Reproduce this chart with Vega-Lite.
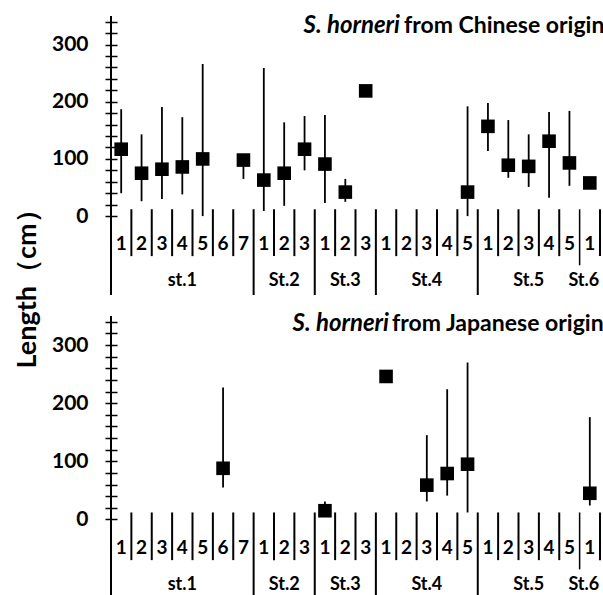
{
  "$schema": "https://vega.github.io/schema/vega-lite/v6.json",
  "background": "white",
  "padding": {"left": 13, "top": 10, "right": 0, "bottom": 0},
  "spacing": 21,
  "bounds": "flush",
  "resolve": {"scale": {"x": "independent", "y": "independent"}},
  "config": {"view": {"stroke": null}, "font": "Lato"},
  "datasets": {
    "slots": [
      {"id": "s1_1", "sub": "1"}, {"id": "s1_2", "sub": "2"}, {"id": "s1_3", "sub": "3"}, {"id": "s1_4", "sub": "4"},
      {"id": "s1_5", "sub": "5"}, {"id": "s1_6", "sub": "6"}, {"id": "s1_7", "sub": "7"},
      {"id": "s2_1", "sub": "1"}, {"id": "s2_2", "sub": "2"}, {"id": "s2_3", "sub": "3"},
      {"id": "s3_1", "sub": "1"}, {"id": "s3_2", "sub": "2"}, {"id": "s3_3", "sub": "3"},
      {"id": "s4_1", "sub": "1"}, {"id": "s4_2", "sub": "2"}, {"id": "s4_3", "sub": "3"}, {"id": "s4_4", "sub": "4"}, {"id": "s4_5", "sub": "5"},
      {"id": "s5_1", "sub": "1"}, {"id": "s5_2", "sub": "2"}, {"id": "s5_3", "sub": "3"}, {"id": "s5_4", "sub": "4"}, {"id": "s5_5", "sub": "5"},
      {"id": "s6_1", "sub": "1"}
    ],
    "stations": [
      {"label": "st.1", "mid": "s1_4"}, {"label": "St.2", "mid": "s2_2"}, {"label": "St.3", "mid": "s3_2"},
      {"label": "St.4", "mid": "s4_3"}, {"label": "St.5", "mid": "s5_3"}
    ],
    "station6": [{"label": "St.6", "mid": "s6_1"}],
    "sepSub": [
      {"at": "s1_2"}, {"at": "s1_3"}, {"at": "s1_4"}, {"at": "s1_5"}, {"at": "s1_6"}, {"at": "s1_7"},
      {"at": "s2_2"}, {"at": "s2_3"}, {"at": "s3_2"}, {"at": "s3_3"},
      {"at": "s4_2"}, {"at": "s4_3"}, {"at": "s4_4"}, {"at": "s4_5"},
      {"at": "s5_2"}, {"at": "s5_3"}, {"at": "s5_4"}, {"at": "s5_5"}
    ],
    "sepStation": [{"at": "s2_1"}, {"at": "s3_1"}, {"at": "s4_1"}, {"at": "s5_1"}],
    "firstSlot": [{"at": "s1_1"}],
    "lastSlot": [{"at": "s6_1"}],
    "titleCN": [{"at": "s6_1", "species": "S. horneri", "rest": "from Chinese origin"}],
    "titleJP": [{"at": "s6_1", "species": "S. horneri", "rest": "from Japanese origin"}],
    "chinese": [
      {"id": "s1_1", "mean": 117, "lo": 40, "hi": 187},
      {"id": "s1_2", "mean": 75, "lo": 26, "hi": 143},
      {"id": "s1_3", "mean": 82, "lo": 30, "hi": 191},
      {"id": "s1_4", "mean": 86, "lo": 38, "hi": 173},
      {"id": "s1_5", "mean": 100, "lo": 0, "hi": 266},
      {"id": "s1_7", "mean": 98, "lo": 65, "hi": 98},
      {"id": "s2_1", "mean": 63, "lo": 9, "hi": 259},
      {"id": "s2_2", "mean": 75, "lo": 18, "hi": 164},
      {"id": "s2_3", "mean": 117, "lo": 80, "hi": 175},
      {"id": "s3_1", "mean": 91, "lo": 23, "hi": 177},
      {"id": "s3_2", "mean": 42, "lo": 25, "hi": 65},
      {"id": "s3_3", "mean": 219, "lo": null, "hi": null},
      {"id": "s4_5", "mean": 42, "lo": 0, "hi": 192},
      {"id": "s5_1", "mean": 157, "lo": 114, "hi": 198},
      {"id": "s5_2", "mean": 89, "lo": 67, "hi": 168},
      {"id": "s5_3", "mean": 87, "lo": 51, "hi": 143},
      {"id": "s5_4", "mean": 131, "lo": 32, "hi": 182},
      {"id": "s5_5", "mean": 93, "lo": 53, "hi": 184},
      {"id": "s6_1", "mean": 58, "lo": null, "hi": null}
    ],
    "japanese": [
      {"id": "s1_6", "mean": 88, "lo": 55, "hi": 227},
      {"id": "s3_1", "mean": 15, "lo": 15, "hi": 31},
      {"id": "s4_1", "mean": 246, "lo": null, "hi": null},
      {"id": "s4_3", "mean": 59, "lo": 31, "hi": 145},
      {"id": "s4_4", "mean": 79, "lo": 41, "hi": 224},
      {"id": "s4_5", "mean": 95, "lo": 12, "hi": 270},
      {"id": "s6_1", "mean": 45, "lo": 24, "hi": 176}
    ]
  },
  "vconcat": [
    {
      "width": 489,
      "height": 279,
      "layer": [
        {
          "data": {"name": "firstSlot"},
          "mark": {"type": "rule", "color": "black", "strokeWidth": 2},
          "encoding": {
            "x": {"field": "at", "type": "nominal", "bandPosition": 0,
              "scale": {"type": "band", "paddingInner": 0, "paddingOuter": 0,
                "domain": ["s1_1","s1_2","s1_3","s1_4","s1_5","s1_6","s1_7","s2_1","s2_2","s2_3","s3_1","s3_2","s3_3","s4_1","s4_2","s4_3","s4_4","s4_5","s5_1","s5_2","s5_3","s5_4","s5_5","s6_1"]},
              "axis": null},
            "y": {"datum": 350, "type": "quantitative",
              "scale": {"domain": [-138, 350], "nice": false, "zero": false},
              "axis": {
                "values": [0,20,40,60,80,100,120,140,160,180,200,220,240,260,280,300,320,340],
                "tickCount": 100,
                "labelExpr": "datum.value % 100 === 0 ? datum.label : ''",
                "labelOverlap": false, "labelBound": false,
                "domain": false, "grid": false, "offset": -6, "tickSize": 12, "tickWidth": 1.5, "tickColor": "black",
                "labelPadding": 17, "labelFont": "Lato", "labelFontWeight": "bold", "labelFontSize": 21, "labelColor": "black",
                "title": "Length（cm）", "titleFont": "Lato", "titleFontWeight": "bold", "titleFontSize": 27, "titleColor": "black",
                "titleAngle": 270, "titleAlign": "center", "titleBaseline": "middle", "titleX": -90, "titleY": 266
              }},
            "y2": {"datum": -138}
          }
        },
        {"mark": {"type": "rule", "color": "black", "strokeWidth": 2}, "encoding": {"y": {"datum": 0}}},
        {
          "data": {"name": "sepSub"},
          "mark": {"type": "rule", "color": "black", "strokeWidth": 2},
          "encoding": {"x": {"field": "at", "type": "nominal", "bandPosition": 0}, "y": {"datum": 12}, "y2": {"datum": -70}}
        },
        {
          "data": {"name": "lastSlot"},
          "mark": {"type": "rule", "color": "black", "strokeWidth": 2},
          "encoding": {"x": {"field": "at", "type": "nominal", "bandPosition": 1}, "y": {"datum": 12}, "y2": {"datum": -70}}
        },
        {
          "data": {"name": "sepStation"},
          "mark": {"type": "rule", "color": "black", "strokeWidth": 2},
          "encoding": {"x": {"field": "at", "type": "nominal", "bandPosition": 0}, "y": {"datum": 12}, "y2": {"datum": -138}}
        },
        {
          "data": {"name": "lastSlot"},
          "mark": {"type": "rule", "color": "black", "strokeWidth": 1.5},
          "encoding": {"x": {"field": "at", "type": "nominal", "bandPosition": 0}, "y": {"datum": 12}, "y2": {"datum": -86}}
        },
        {
          "data": {"name": "slots"},
          "mark": {"type": "text", "font": "Lato", "fontWeight": "bold", "fontSize": 19, "color": "black", "baseline": "middle"},
          "encoding": {"x": {"field": "id", "type": "nominal"}, "y": {"datum": -48}, "text": {"field": "sub"}}
        },
        {
          "data": {"name": "stations"},
          "mark": {"type": "text", "font": "Lato", "fontWeight": "bold", "fontSize": 18, "color": "black", "baseline": "middle"},
          "encoding": {"x": {"field": "mid", "type": "nominal"}, "y": {"datum": -114}, "text": {"field": "label"}}
        },
        {
          "data": {"name": "station6"},
          "mark": {"type": "text", "font": "Lato", "fontWeight": "bold", "fontSize": 18, "color": "black", "baseline": "middle", "dx": -6},
          "encoding": {"x": {"field": "mid", "type": "nominal"}, "y": {"datum": -114}, "text": {"field": "label"}}
        },
        {
          "data": {"name": "chinese"},
          "mark": {"type": "rule", "color": "black", "strokeWidth": 1.8},
          "encoding": {"x": {"field": "id", "type": "nominal"}, "y": {"field": "lo", "type": "quantitative"}, "y2": {"field": "hi"}}
        },
        {
          "data": {"name": "chinese"},
          "mark": {"type": "point", "shape": "square", "filled": true, "color": "black", "opacity": 1, "size": 185},
          "encoding": {"x": {"field": "id", "type": "nominal"}, "y": {"field": "mean", "type": "quantitative"}}
        },
        {
          "data": {"name": "titleCN"},
          "mark": {"type": "text", "font": "Lato", "fontWeight": "bold", "fontStyle": "italic", "fontSize": 24, "color": "black", "align": "right", "baseline": "middle", "dx": -200},
          "encoding": {"x": {"field": "at", "type": "nominal", "bandPosition": 1}, "y": {"datum": 332}, "text": {"field": "species"}}
        },
        {
          "data": {"name": "titleCN"},
          "mark": {"type": "text", "font": "Lato", "fontWeight": "bold", "fontSize": 23, "color": "black", "align": "left", "baseline": "middle", "dx": -196},
          "encoding": {"x": {"field": "at", "type": "nominal", "bandPosition": 1}, "y": {"datum": 332}, "text": {"field": "rest"}}
        }
      ]
    },
    {
      "width": 489,
      "height": 279,
      "layer": [
        {
          "data": {"name": "firstSlot"},
          "mark": {"type": "rule", "color": "black", "strokeWidth": 2},
          "encoding": {
            "x": {"field": "at", "type": "nominal", "bandPosition": 0,
              "scale": {"type": "band", "paddingInner": 0, "paddingOuter": 0,
                "domain": ["s1_1","s1_2","s1_3","s1_4","s1_5","s1_6","s1_7","s2_1","s2_2","s2_3","s3_1","s3_2","s3_3","s4_1","s4_2","s4_3","s4_4","s4_5","s5_1","s5_2","s5_3","s5_4","s5_5","s6_1"]},
              "axis": null},
            "y": {"datum": 350, "type": "quantitative",
              "scale": {"domain": [-130, 350], "nice": false, "zero": false},
              "axis": {
                "values": [0,20,40,60,80,100,120,140,160,180,200,220,240,260,280,300,320,340],
                "tickCount": 100,
                "labelExpr": "datum.value % 100 === 0 ? datum.label : ''",
                "labelOverlap": false, "labelBound": false,
                "domain": false, "grid": false, "offset": -6, "tickSize": 12, "tickWidth": 1.5, "tickColor": "black",
                "labelPadding": 17, "labelFont": "Lato", "labelFontWeight": "bold", "labelFontSize": 21, "labelColor": "black",
                "title": null
              }},
            "y2": {"datum": -130}
          }
        },
        {"mark": {"type": "rule", "color": "black", "strokeWidth": 2}, "encoding": {"y": {"datum": 0}}},
        {
          "data": {"name": "sepSub"},
          "mark": {"type": "rule", "color": "black", "strokeWidth": 2},
          "encoding": {"x": {"field": "at", "type": "nominal", "bandPosition": 0}, "y": {"datum": 12}, "y2": {"datum": -70}}
        },
        {
          "data": {"name": "lastSlot"},
          "mark": {"type": "rule", "color": "black", "strokeWidth": 2},
          "encoding": {"x": {"field": "at", "type": "nominal", "bandPosition": 1}, "y": {"datum": 12}, "y2": {"datum": -70}}
        },
        {
          "data": {"name": "sepStation"},
          "mark": {"type": "rule", "color": "black", "strokeWidth": 2},
          "encoding": {"x": {"field": "at", "type": "nominal", "bandPosition": 0}, "y": {"datum": 12}, "y2": {"datum": -130}}
        },
        {
          "data": {"name": "lastSlot"},
          "mark": {"type": "rule", "color": "black", "strokeWidth": 1.5},
          "encoding": {"x": {"field": "at", "type": "nominal", "bandPosition": 0}, "y": {"datum": 12}, "y2": {"datum": -86}}
        },
        {
          "data": {"name": "slots"},
          "mark": {"type": "text", "font": "Lato", "fontWeight": "bold", "fontSize": 19, "color": "black", "baseline": "middle"},
          "encoding": {"x": {"field": "id", "type": "nominal"}, "y": {"datum": -49}, "text": {"field": "sub"}}
        },
        {
          "data": {"name": "stations"},
          "mark": {"type": "text", "font": "Lato", "fontWeight": "bold", "fontSize": 18, "color": "black", "baseline": "middle"},
          "encoding": {"x": {"field": "mid", "type": "nominal"}, "y": {"datum": -112}, "text": {"field": "label"}}
        },
        {
          "data": {"name": "station6"},
          "mark": {"type": "text", "font": "Lato", "fontWeight": "bold", "fontSize": 18, "color": "black", "baseline": "middle", "dx": -6},
          "encoding": {"x": {"field": "mid", "type": "nominal"}, "y": {"datum": -112}, "text": {"field": "label"}}
        },
        {
          "data": {"name": "japanese"},
          "mark": {"type": "rule", "color": "black", "strokeWidth": 1.8},
          "encoding": {"x": {"field": "id", "type": "nominal"}, "y": {"field": "lo", "type": "quantitative"}, "y2": {"field": "hi"}}
        },
        {
          "data": {"name": "japanese"},
          "mark": {"type": "point", "shape": "square", "filled": true, "color": "black", "opacity": 1, "size": 185},
          "encoding": {"x": {"field": "id", "type": "nominal"}, "y": {"field": "mean", "type": "quantitative"}}
        },
        {
          "data": {"name": "titleJP"},
          "mark": {"type": "text", "font": "Lato", "fontWeight": "bold", "fontStyle": "italic", "fontSize": 24, "color": "black", "align": "right", "baseline": "middle", "dx": -211},
          "encoding": {"x": {"field": "at", "type": "nominal", "bandPosition": 1}, "y": {"datum": 337}, "text": {"field": "species"}}
        },
        {
          "data": {"name": "titleJP"},
          "mark": {"type": "text", "font": "Lato", "fontWeight": "bold", "fontSize": 23, "color": "black", "align": "left", "baseline": "middle", "dx": -208},
          "encoding": {"x": {"field": "at", "type": "nominal", "bandPosition": 1}, "y": {"datum": 337}, "text": {"field": "rest"}}
        }
      ]
    }
  ]
}
